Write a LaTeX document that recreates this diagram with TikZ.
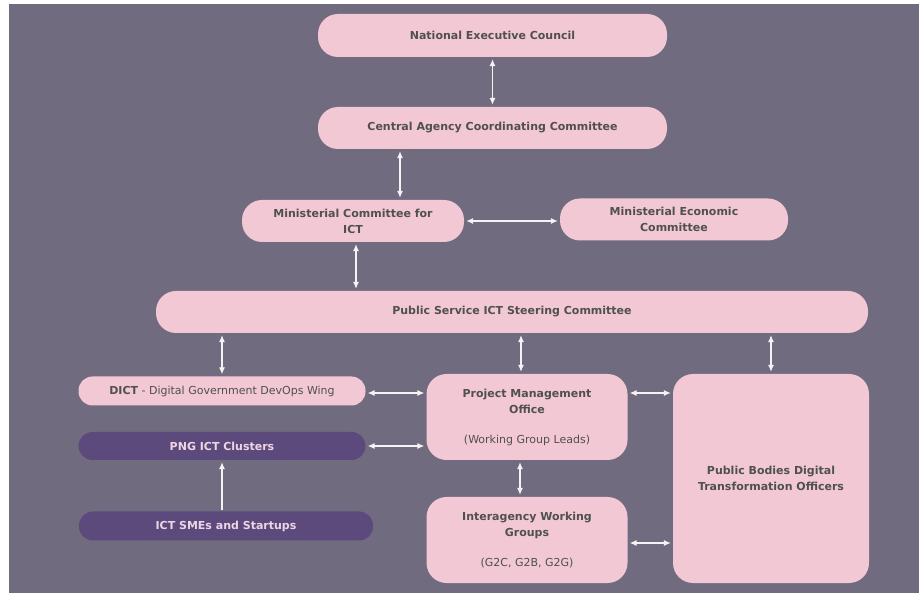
\documentclass[tikz,border=0pt]{standalone}
\usepackage{fontspec}
\setmainfont{DejaVu Sans}
\usetikzlibrary{arrows.meta}
\definecolor{bgc}{HTML}{716B7F}
\definecolor{pinkc}{HTML}{F2C8D5}
\definecolor{purc}{HTML}{5C4A7C}
\definecolor{txtc}{HTML}{505050}
\definecolor{ltxt}{HTML}{EDD5E4}
\definecolor{arrc}{HTML}{F4F4F4}
\tikzset{
  box/.style={fill=pinkc, draw=none, text=txtc, font=\fontsize{11}{16}\selectfont\bfseries, align=center, inner sep=0pt, rounded corners=20pt},
  darkbox/.style={box, fill=purc, text=ltxt, rounded corners=14pt},
  slim/.style={rounded corners=14pt},
  arr/.style={draw=arrc, line width=1.1pt, {Latex[length=7pt,width=6pt]}-{Latex[length=7pt,width=6pt]}, shorten <=2pt, shorten >=2pt},
  uarr/.style={draw=arrc, line width=1.1pt, -{Latex[length=7pt,width=6pt]}, shorten <=1pt, shorten >=2pt}
}
\begin{document}
\begin{tikzpicture}[x=1pt,y=-1pt]
\useasboundingbox (0,0) rectangle (919,593);
\fill[white] (0,0) rectangle (919,593);
\fill[bgc] (9,4) rectangle (919,593);

\node[box, minimum width=349, minimum height=43] (nec) at (492.5,35.5) {National Executive Council};
\node[box, minimum width=349, minimum height=42] (cacc) at (492.5,128) {Central Agency Coordinating Committee};
\node[box, minimum width=222, minimum height=42] (mcict) at (353,221) {Ministerial Committee for\\ICT};
\node[box, minimum width=228, minimum height=42] (mec) at (674,219.5) {Ministerial Economic\\Committee};
\node[box, minimum width=712, minimum height=42] (psict) at (512,312) {Public Service ICT Steering Committee};
\node[box, slim, minimum width=287, minimum height=29] (dict) at (222,391) {DICT\mdseries{} - Digital Government DevOps Wing};
\node[darkbox, minimum width=287, minimum height=28] (png) at (222,446) {PNG ICT Clusters};
\node[darkbox, minimum width=294, minimum height=29] (sme) at (226,526) {ICT SMEs and Startups};
\node[box, minimum width=201, minimum height=86] (pmo) at (527,417) {};
\node[box, minimum width=201, minimum height=86] (iwg) at (527,540) {};
\node[box, minimum width=196, minimum height=209] (pbd) at (771,478.5) {Public Bodies Digital\\Transformation Officers};
\node[box, fill=none, anchor=north] (pmot) at ([yshift=-15]pmo.north) {Project Management\\Office\\[14pt]\mdseries(Working Group Leads)};
\node[box, fill=none, anchor=north] (iwgt) at ([yshift=-15]iwg.north) {Interagency Working\\Groups\\[14pt]\mdseries(G2C, G2B, G2G)};

\draw[arr] (nec) -- (cacc);
\draw[arr] (cacc.south -| 400,0) -- (mcict.north -| 400,0);
\draw[arr] (mcict) -- (mec.west |- mcict);
\draw[arr] (mcict.south -| 356,0) -- (psict.north -| 356,0);
\draw[arr] (psict.south -| 222,0) -- (dict.north -| 222,0);
\draw[arr] (psict.south -| 521,0) -- (pmo.north -| 521,0);
\draw[arr] (psict.south -| 771,0) -- (pbd.north -| 771,0);
\draw[arr] (dict.east |- 0,393) -- (pmo.west |- 0,393);
\draw[arr] (png.east) -- (pmo.west |- png);
\draw[uarr] (sme.north -| 222,0) -- (png.south -| 222,0);
\draw[arr] (pmo.south -| 520,0) -- (iwg.north -| 520,0);
\draw[arr] (pmo.east |- 0,393) -- (pbd.west |- 0,393);
\draw[arr] (iwg.east |- 0,543) -- (pbd.west |- 0,543);
\end{tikzpicture}
\end{document}
